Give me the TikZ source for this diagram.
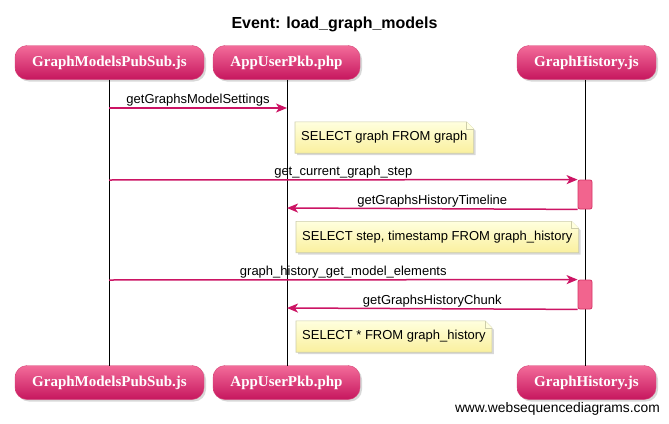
\documentclass[tikz,border=0pt]{standalone}
\usepackage{fontspec}
\setmainfont{Liberation Sans}
\newfontfamily\partfont{Liberation Serif}
\usetikzlibrary{arrows.meta,shadows,calc}
\definecolor{msgcol}{RGB}{204,20,100}
\definecolor{ptop}{RGB}{243,108,154}
\definecolor{pbot}{RGB}{198,22,94}
\definecolor{pedge}{RGB}{215,70,120}
\definecolor{actfill}{RGB}{242,100,142}
\definecolor{actdraw}{RGB}{214,52,104}
\definecolor{notetop}{RGB}{255,255,222}
\definecolor{notebot}{RGB}{250,240,158}
\definecolor{noteedge}{RGB}{205,205,170}
\tikzset{
  part/.style={rounded corners=12pt, top color=ptop, bottom color=pbot, draw=pedge,
    minimum height=34pt, text=white, inner sep=0pt,
    font=\partfont\bfseries\fontsize{15}{17}\selectfont,
    drop shadow={shadow xshift=2pt, shadow yshift=-2pt, opacity=0.3}},
  life/.style={black, line width=0.8pt},
  msg/.style={draw=msgcol, line width=1.5pt, -{Stealth[length=11pt,width=9pt,inset=3pt]}},
  lbl/.style={font=\fontsize{13}{15}\selectfont, text=black, inner sep=1.2pt},
  act/.style={rounded corners=2pt, fill=actfill, draw=actdraw, line width=0.8pt,
    minimum width=14pt, minimum height=29pt, inner sep=0pt},
  notetext/.style={font=\fontsize{13}{15}\selectfont, anchor=west, inner xsep=6pt,
    minimum height=31pt, inner ysep=0pt},
  noteshape/.style={top color=notetop, bottom color=notebot, draw=noteedge, line width=0.6pt,
    drop shadow={shadow xshift=2pt, shadow yshift=-2pt, opacity=0.3}}
}
\newcommand{\drawnote}[1]{%
  \path[noteshape] (#1.north west) -- ($(#1.north east)+(-7,0)$) -- ($(#1.north east)+(0,7)$)
     -- (#1.south east) -- (#1.south west) -- cycle;
  \path[fill=notetop, draw=noteedge, line width=0.6pt] ($(#1.north east)+(-7,0)$) -- ($(#1.north east)+(-7,7)$) -- ($(#1.north east)+(0,7)$);
}
\begin{document}
\begin{tikzpicture}[x=1pt,y=-1pt]
\useasboundingbox[fill=white] (0,0) rectangle (669,423);

\node[font=\bfseries\fontsize{16}{18}\selectfont, anchor=base, inner sep=0pt] (title) at (334.5,28) {Event: load\_graph\_models};

% participants
\node[part, minimum width=189pt] (p1t) at (109.5,62.5) {GraphModelsPubSub.js};
\node[part, minimum width=147pt] (p2t) at (286.5,62.5) {AppUserPkb.php};
\node[part, minimum width=139pt] (p3t) at (586.5,62.5) {GraphHistory.js};
\node[part, minimum width=189pt] (p1b) at (109.5,382.5) {GraphModelsPubSub.js};
\node[part, minimum width=147pt] (p2b) at (286.5,382.5) {AppUserPkb.php};
\node[part, minimum width=139pt] (p3b) at (586.5,382.5) {GraphHistory.js};

% lifelines
\coordinate (l1t) at (109,79.5); \coordinate (l1b) at (109,365.5);
\coordinate (l2t) at (287,79.5); \coordinate (l2b) at (287,365.5);
\coordinate (l3t) at (585,79.5); \coordinate (l3b) at (585,365.5);
\draw[life] (l1t) -- (l1b);
\draw[life] (l2t) -- (l2b);
\draw[life] (l3t) -- (l3b);

% activations
\node[act] (a1) at (585,194.5) {};
\node[act] (a2) at (585,294.5) {};

% message 1
\coordinate (m1s) at (109,108); \coordinate (m1e) at (287,108);
\draw[msg] (m1s) -- node[lbl, above] {getGraphsModelSettings} (m1e);

% note 1
\node[notetext] (n1) at (295,137.5) {\phantom{SELECT graph FROM graph}};
\drawnote{n1}
\node[notetext] at (n1.west) {SELECT graph FROM graph};

% message 2
\coordinate (m2s) at (109,180);
\draw[msg] (m2s) -- node[lbl, above] {get\_current\_graph\_step} (a1.north west);
\coordinate (m3e) at (287,208);
\draw[msg] (a1.south west) -- node[lbl, above] {getGraphsHistoryTimeline} (m3e);

% note 2
\node[notetext] (n2) at (296,237) {\phantom{SELECT step, timestamp FROM graph\_history}};
\drawnote{n2}
\node[notetext] at (n2.west) {SELECT step, timestamp FROM graph\_history};

% message 3
\coordinate (m4s) at (109,280);
\draw[msg] (m4s) -- node[lbl, above] {graph\_history\_get\_model\_elements} (a2.north west);
\coordinate (m5e) at (287,308);
\draw[msg] (a2.south west) -- node[lbl, above] {getGraphsHistoryChunk} (m5e);

% note 3
\node[notetext] (n3) at (296,336.5) {\phantom{SELECT * FROM graph\_history}};
\drawnote{n3}
\node[notetext] at (n3.west) {SELECT * FROM graph\_history};

% watermark
\node[anchor=east, font=\fontsize{13.8}{16}\selectfont, inner sep=0pt] (wm) at (660,409) {www.websequencediagrams.com};
\end{tikzpicture}
\end{document}
